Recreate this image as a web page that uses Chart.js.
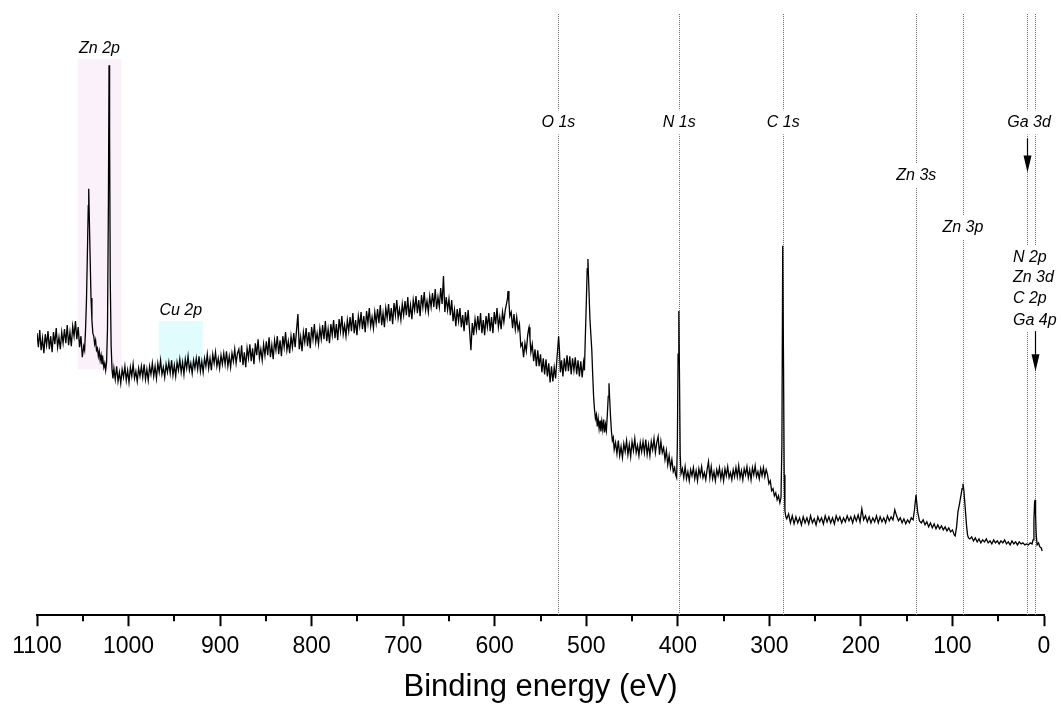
<!DOCTYPE html>
<html>
<head>
<meta charset="utf-8">
<script src="https://cdn.jsdelivr.net/npm/chart.js@4.4.0/dist/chart.umd.min.js"></script>
<style>
  html, body { margin: 0; padding: 0; background: #fff; }
</style>
</head>
<body>
<canvas id="xps" width="1061" height="706"></canvas>
<script>
// survey spectrum, [binding energy (eV), intensity (a.u.)]
var highEnd = [
  [1100, 281], [1098.5, 267], [1097, 284], [1095.5, 264], [1094, 276], [1092.5, 261], [1091, 280],
  [1089.5, 269], [1088, 283], [1086.5, 265], [1085, 278], [1083.5, 262], [1082, 282], [1080.5, 270],
  [1079, 286], [1077.5, 267], [1076, 277], [1074.5, 265], [1073, 282], [1071.5, 271], [1070, 285],
  [1068.5, 271], [1067, 289], [1065.5, 269], [1064, 282], [1062.5, 268], [1061, 288], [1059.5, 278],
  [1058, 293], [1056.5, 275], [1055, 287], [1053.5, 267], [1052, 278], [1050.5, 257]
];
var zn2p = [
  [1049, 268], [1048, 264], [1047, 284], [1046, 312], [1045, 358], [1044, 408], [1043.5, 425],
  [1043, 402], [1042, 358], [1041, 316], [1040, 294], [1039, 281], [1038, 278], [1037, 270],
  [1036, 274], [1035, 264], [1034, 266], [1033, 258], [1032, 263], [1031, 254], [1030, 259],
  [1029, 250], [1028, 255], [1027, 247], [1026, 251], [1025, 244], [1024, 252], [1023, 285],
  [1022, 410], [1021.3, 548], [1020.7, 480], [1020, 335], [1019, 268], [1018, 244], [1017, 236]
];
var cu2pRange = [
  [1016, 246], [1014.5, 235], [1013, 248], [1011.5, 233], [1010, 242], [1008.5, 231], [1007, 245],
  [1005.5, 237], [1004, 248], [1002.5, 234], [1001, 244], [999.5, 232], [998, 247], [996.5, 238],
  [995, 250], [993.5, 236], [992, 243], [990.5, 233], [989, 246], [987.5, 238], [986, 248],
  [984.5, 237], [983, 250], [981.5, 235], [980, 245], [978.5, 234], [977, 248], [975.5, 240],
  [974, 251], [972.5, 238], [971, 248], [969.5, 236], [968, 251], [966.5, 242], [965, 254],
  [963.5, 240], [962, 247], [960.5, 237], [959, 250], [957.5, 242], [956, 252], [954.5, 241],
  [953, 254], [951.5, 239], [950, 249], [948.5, 238], [947, 252], [945.5, 244], [944, 255],
  [942.5, 242], [941, 252], [939.5, 240], [938, 255], [936.5, 246], [935, 258], [933.5, 244],
  [932, 251], [930.5, 241], [929, 254], [927.5, 246], [926, 256], [924.5, 245], [923, 258],
  [921.5, 243], [920, 253], [918.5, 242], [917, 256], [915.5, 248], [914, 260], [912.5, 246],
  [911, 256], [909.5, 244], [908, 260], [906.5, 251], [905, 262], [903.5, 248], [902, 256],
  [900.5, 246], [899, 259], [897.5, 250], [896, 261], [894.5, 250], [893, 263], [891.5, 248],
  [890, 258], [888.5, 247], [887, 261], [885.5, 253], [884, 265], [882.5, 251], [881, 261]
];
var backgroundHump = [
  [879.5, 265], [878, 252], [876.5, 269], [875, 249], [873.5, 262], [872, 247], [870.5, 266],
  [869, 256], [867.5, 270], [866, 253], [864.5, 266], [863, 250], [861.5, 271], [860, 259],
  [858.5, 275], [857, 256], [855.5, 265], [854, 254], [852.5, 270], [851, 259], [849.5, 273],
  [848, 259], [846.5, 277], [845, 257], [843.5, 269], [842, 255], [840.5, 274], [839, 264],
  [837.5, 278], [836, 260], [834.5, 274], [833, 258], [831.5, 278], [830, 267], [828.5, 282],
  [827, 264], [825.5, 273], [824, 261], [822.5, 278], [821, 267], [819.5, 281], [818, 267],
  [816.5, 284], [815, 300], [813.5, 265], [812, 277], [810.5, 263], [809, 282], [807.5, 272],
  [806, 286], [804.5, 268], [803, 282], [801.5, 266], [800, 287], [798.5, 275], [797, 290],
  [795.5, 272], [794, 281], [792.5, 270], [791, 286], [789.5, 275], [788, 289], [786.5, 275],
  [785, 293], [783.5, 273], [782, 285], [780.5, 271], [779, 290], [777.5, 279], [776, 294],
  [774.5, 276], [773, 290], [771.5, 274], [770, 295], [768.5, 283], [767, 298], [765.5, 280],
  [764, 289], [762.5, 278], [761, 294], [759.5, 283], [758, 297], [756.5, 283], [755, 301],
  [753.5, 281], [752, 294], [750.5, 279], [749, 298], [747.5, 288], [746, 302], [744.5, 285],
  [743, 298], [741.5, 282], [740, 303], [738.5, 291], [737, 306], [735.5, 288], [734, 297],
  [732.5, 286], [731, 302], [729.5, 291], [728, 305], [726.5, 291], [725, 309], [723.5, 289],
  [722, 301], [720.5, 287], [719, 306], [717.5, 296], [716, 310], [714.5, 293], [713, 306],
  [711.5, 290], [710, 311], [708.5, 299], [707, 314], [705.5, 296], [704, 305], [702.5, 294],
  [701, 310], [699.5, 299], [698, 313], [696.5, 299], [695, 317], [693.5, 297], [692, 309],
  [690.5, 295], [689, 314], [687.5, 304], [686, 318], [684.5, 301], [683, 314], [681.5, 298],
  [680, 319], [678.5, 307], [677, 322], [675.5, 304], [674, 313], [672.5, 302], [671, 318],
  [669.5, 307], [668, 321], [666.5, 307], [665, 325], [663.5, 305], [662, 317]
];
var augerRange = [
  [660.5, 307], [659, 326], [657.5, 310], [656, 338], [654.5, 302], [653, 317], [651.5, 304],
  [650, 315], [648.5, 299], [647, 314], [645.5, 293], [644, 304], [642.5, 288], [641, 305],
  [639.5, 293], [638, 306], [636.5, 287], [635, 299], [633.5, 283], [632, 302], [630.5, 289],
  [629, 304], [627.5, 284], [626, 264], [624.5, 291], [623, 279], [621.5, 295], [620, 284],
  [618.5, 298], [617, 284], [615.5, 301], [614, 281], [612.5, 294], [611, 279], [609.5, 298],
  [608, 287], [606.5, 301], [605, 283], [603.5, 297], [602, 281], [600.5, 302], [599, 290],
  [597.5, 306], [596, 287], [594.5, 297], [593, 285], [591.5, 302], [590, 292], [588.5, 304],
  [587, 311], [586, 316], [585.5, 323], [584.5, 312], [583.5, 298], [582, 302], [580.5, 286],
  [579, 300], [577.5, 285], [576, 297], [574.5, 284], [573, 290], [571.5, 268], [570, 271],
  [568.5, 257], [567, 271], [565.5, 263], [564, 279], [563, 285], [562.5, 287], [561.5, 276],
  [560.5, 262], [559, 270], [557.5, 253], [556, 265], [554.5, 248], [553, 264], [551.5, 248],
  [550, 260], [548.5, 242], [547, 256], [545.5, 240], [544, 255], [542.5, 238], [541, 251],
  [539.5, 232], [538, 248], [536.5, 233], [535, 247], [533.5, 236], [532, 256], [531, 268],
  [530.2, 278], [529.3, 264], [528.3, 242], [527, 254], [525.5, 238], [524, 256], [522.5, 243],
  [521, 259], [519.5, 243], [518, 258], [516.5, 240], [515, 256], [513.5, 244], [512, 257],
  [510.5, 240], [509, 254], [507.5, 238], [506, 253], [504.5, 237], [503, 252], [502, 244],
  [501.3, 268], [500, 310], [499, 345], [498.2, 355], [497.3, 330], [496, 295], [495, 280],
  [494, 265], [493, 240], [492, 218], [491, 205], [490, 196], [489, 200], [488, 188], [487, 196],
  [486, 186], [485, 194], [484, 183], [483, 193], [482, 185], [481, 195], [480, 182], [479, 190],
  [478, 184], [477, 200], [476, 218], [475.2, 231], [474.4, 215], [473.5, 198], [472.5, 183],
  [471.5, 174], [470.5, 177], [469.5, 165]
];
var n1sRange = [
  [468, 172], [466.5, 161], [465, 174], [463.5, 159], [462, 168], [460.5, 157], [459, 171],
  [457.5, 163], [456, 174], [454.5, 160], [453, 170], [451.5, 158], [450, 173], [448.5, 164],
  [447, 176], [445.5, 162], [444, 169], [442.5, 159], [441, 172], [439.5, 163], [438, 173],
  [436.5, 162], [435, 175], [433.5, 160], [432, 170], [430.5, 159], [429, 173], [427.5, 165],
  [426, 176], [424.5, 162], [423, 172], [421.5, 178], [420, 160], [418.5, 173], [417, 162],
  [415.5, 167], [414, 155], [412.5, 164], [411, 150], [409.5, 159], [408, 147], [406.5, 155],
  [405, 143], [403.5, 147], [402.5, 140], [401.3, 137], [400.5, 170], [399.7, 260], [398.9, 303],
  [398.2, 240], [397.4, 160], [396.5, 141], [395, 146], [393.5, 137], [392, 148], [390.5, 136],
  [389, 143], [387.5, 134], [386, 145], [384.5, 139], [383, 147], [381.5, 136], [380, 144],
  [378.5, 134], [377, 146], [375.5, 139], [374, 148], [372.5, 137], [371, 142], [369.5, 135],
  [368, 145], [366.5, 153], [365, 137], [363.5, 148], [362, 136], [360.5, 143], [359, 134],
  [357.5, 145], [356, 139], [354.5, 147], [353, 136], [351.5, 144], [350, 134], [348.5, 146],
  [347, 139], [345.5, 148], [344, 137], [342.5, 142], [341, 135], [339.5, 145], [338, 138],
  [336.5, 147], [335, 138], [333.5, 149], [332, 137], [330.5, 144], [329, 135], [327.5, 146],
  [326, 140], [324.5, 148], [323, 137], [321.5, 145], [320, 135], [318.5, 147], [317, 140],
  [315.5, 149], [314, 138], [312.5, 143], [311, 136], [309.5, 146], [308, 139], [306.5, 147],
  [305, 138], [303.5, 145], [302, 140], [300.5, 131], [299, 134], [297.5, 124], [296, 126],
  [294.5, 119], [293, 122], [291.5, 115], [290, 119], [288.5, 112], [287.3, 117], [286.3, 170],
  [285.4, 368], [284.6, 260], [283.8, 140], [283, 104], [282, 98]
];
var lowRange = [
  [281, 96], [279, 101], [277, 92], [275, 99], [273, 91], [271, 98], [269, 92], [267, 97],
  [265, 90], [263, 98], [261, 92], [259, 97], [257, 91], [255, 99], [253, 92], [251, 96],
  [249, 90], [247, 98], [245, 93], [243, 97], [241, 91], [239, 99], [237, 93], [235, 98],
  [233, 92], [231, 97], [229, 91], [227, 99], [225, 94], [223, 98], [221, 92], [219, 97],
  [217, 93], [215, 99], [213, 94], [211, 98], [209, 92], [207, 99], [205, 94], [203, 100],
  [201, 93], [199, 106], [197, 95], [195, 99], [193, 93], [191, 98], [189, 92], [187, 97],
  [185, 93], [183, 99], [181, 92], [179, 98], [177, 93], [175, 97], [173, 92], [171, 99],
  [169, 94], [167, 98], [165, 95], [163, 105], [161, 99], [159, 94], [157, 97], [155, 92],
  [153, 96], [151, 91], [149, 95], [147, 92], [145, 97], [143, 95], [141.5, 105], [139.8, 120],
  [138, 103], [136, 94], [134, 92], [132, 95], [130, 90], [128, 93], [126, 88], [124, 92],
  [122, 87], [120, 91], [118, 86], [116, 90], [114, 86], [112, 89], [110, 85], [108, 88],
  [106, 84], [104, 87], [102, 83], [100, 85], [98, 80], [97, 79], [95.5, 88], [94, 103],
  [92.5, 110], [91, 118], [89.5, 126], [88.5, 131], [87.5, 124], [86.5, 112], [85.5, 100],
  [84.5, 88], [83.5, 80], [82.5, 77], [81, 76], [79, 78], [77, 74], [75, 77], [73, 73], [71, 76],
  [69, 72], [67, 75], [65, 73], [63, 76], [61, 72], [59, 74], [57, 71], [55, 75], [53, 72],
  [51, 74], [49, 71], [47, 74], [45, 72], [43, 75], [41, 71], [39, 73], [37, 70], [35, 74],
  [33, 71], [31, 73], [29, 70], [27, 73], [25, 71], [23, 72], [21, 70], [19, 71], [17, 70],
  [15, 72], [13, 71], [12, 75], [11, 95], [10.3, 112], [9.8, 115], [9.2, 100], [8.5, 80],
  [7.5, 70], [6, 72], [4.5, 68], [3, 67], [2, 64]
];

var xTicks = [1100, 1000, 900, 800, 700, 600, 500, 400, 300, 200, 100, 0];
var minorTicks = [1050, 950, 850, 750, 650, 550, 450, 350, 250, 150, 50];

// dotted reference lines and their labels
var lineEnergy = [530.4, 398.4, 284.8, 139.5, 88.6, 18.6, 9.8];
var peakLabels = ["O 1s", "N 1s", "C 1s", "Zn 3s", "Zn 3p", "Ga 3d"];
var labelEnergy = [530.4, 398.4, 284.8, 139.5, 88.6, 16.4];
var labelLevel = [491, 491, 491, 438, 386, 491];

// stacked label for the valence region
var valenceLabels = ["N 2p", "Zn 3d", "C 2p", "Ga 4p"];
var valenceLevel = [356, 336, 315, 294];
var valenceLeft = 33.9;

// shaded regions: [high eV, low eV, bottom, top]
var regionNames = ["Zn 2p", "Cu 2p"];
var regionSpans = [[1055.7, 1007.7, 245, 554], [967, 919, 245, 293]];
var regionColors = ["#fbf1fb", "#e0fcfc"];

// arrows: [eV, from, to]
var arrows = [[18.6, 475, 441], [9.8, 283, 243]];

var FONT = "'Liberation Sans', Arial, sans-serif";

var spectrum = [].concat(highEnd, zn2p, cu2pRange, backgroundHump, augerRange, n1sRange, lowRange);

var marks = {
  id: "marks",
  beforeDatasetsDraw: function (chart) {
    var ctx = chart.ctx, xs = chart.scales.x, ys = chart.scales.y, area = chart.chartArea;
    ctx.save();
    regionSpans.forEach(function (r, i) {
      var x1 = xs.getPixelForValue(r[0]), x2 = xs.getPixelForValue(r[1]);
      var y1 = ys.getPixelForValue(r[3]), y2 = ys.getPixelForValue(r[2]);
      ctx.fillStyle = regionColors[i];
      ctx.fillRect(x1, y1, x2 - x1, y2 - y1);
    });
    ctx.strokeStyle = "#6e6e6e";
    ctx.lineWidth = 1;
    ctx.setLineDash([1, 1]);
    lineEnergy.forEach(function (e) {
      var x = Math.round(xs.getPixelForValue(e)) + 0.5;
      ctx.beginPath();
      ctx.moveTo(x, area.top + 1);
      ctx.lineTo(x, area.bottom);
      ctx.stroke();
    });
    ctx.restore();
  },
  afterDatasetsDraw: function (chart) {
    var ctx = chart.ctx, xs = chart.scales.x, ys = chart.scales.y, area = chart.chartArea;
    ctx.save();
    ctx.font = "italic 16px " + FONT;
    ctx.textBaseline = "middle";
    ctx.textAlign = "center";

    regionSpans.forEach(function (r, i) {
      var cx = (xs.getPixelForValue(r[0]) + xs.getPixelForValue(r[1])) / 2;
      ctx.fillStyle = "#000";
      ctx.fillText(regionNames[i], cx, ys.getPixelForValue(r[3]) - 11);
    });

    // peak labels sit in a gap of their dotted line
    peakLabels.forEach(function (t, i) {
      var x = xs.getPixelForValue(labelEnergy[i]), y = ys.getPixelForValue(labelLevel[i]);
      var w = ctx.measureText(t).width;
      ctx.fillStyle = "#fff";
      ctx.fillRect(x - w / 2 - 2, y - 12, w + 4, 24);
      ctx.fillStyle = "#000";
      ctx.fillText(t, x, y);
    });

    ctx.textAlign = "left";
    var lx = xs.getPixelForValue(valenceLeft);
    var top = ys.getPixelForValue(valenceLevel[0]) - 12;
    var bot = ys.getPixelForValue(valenceLevel[valenceLevel.length - 1]) + 11;
    ctx.fillStyle = "#fff";
    ctx.fillRect(lx - 2, top, area.right + 17 - lx, bot - top);
    valenceLabels.forEach(function (t, i) {
      ctx.fillStyle = "#000";
      ctx.fillText(t, lx, ys.getPixelForValue(valenceLevel[i]));
    });

    ctx.strokeStyle = "#000";
    ctx.fillStyle = "#000";
    ctx.lineWidth = 1.2;
    arrows.forEach(function (a) {
      var x = Math.round(xs.getPixelForValue(a[0])) + 0.5;
      var y1 = ys.getPixelForValue(a[1]), y2 = ys.getPixelForValue(a[2]);
      ctx.beginPath();
      ctx.moveTo(x, y1);
      ctx.lineTo(x, y2 - 12);
      ctx.stroke();
      ctx.beginPath();
      ctx.moveTo(x - 4, y2 - 17);
      ctx.lineTo(x + 4, y2 - 17);
      ctx.lineTo(x, y2);
      ctx.closePath();
      ctx.fill();
    });

    // minor ticks
    ctx.lineWidth = 2;
    minorTicks.forEach(function (v) {
      var x = Math.round(xs.getPixelForValue(v));
      ctx.beginPath();
      ctx.moveTo(x, area.bottom);
      ctx.lineTo(x, area.bottom + 6);
      ctx.stroke();
    });
    ctx.restore();
  }
};

var chart = new Chart(document.getElementById("xps"), {
  type: "line",
  data: {
    datasets: [
      {
        data: spectrum.map(function (p) { return { x: p[0], y: p[1] }; }),
        borderColor: "#000",
        borderWidth: 1.3,
        pointRadius: 0,
        tension: 0,
        fill: false
      }
    ]
  },
  options: {
    responsive: false,
    animation: false,
    layout: { padding: { left: 37, right: 17, top: 13, bottom: 0 } },
    plugins: { legend: { display: false }, tooltip: { enabled: false } },
    scales: {
      x: {
        type: "linear",
        reverse: true,
        min: 0,
        max: 1100,
        afterBuildTicks: function (axis) {
          axis.ticks = xTicks.map(function (v) { return { value: v }; });
        },
        border: { display: true, color: "#000", width: 2 },
        grid: { drawOnChartArea: false, drawTicks: true, tickLength: 11, tickWidth: 2, tickColor: "#000" },
        ticks: {
          color: "#000",
          font: { family: FONT, size: 23 },
          padding: 7,
          maxRotation: 0,
          autoSkip: false,
          callback: function (v) { return String(v); }
        },
        title: {
          display: true,
          text: "Binding energy (eV)",
          color: "#000",
          font: { family: FONT, size: 31 },
          padding: { top: 1, bottom: 0 }
        }
      },
      y: { display: false, min: 0, max: 600 }
    }
  },
  plugins: [marks]
});
</script>
</body>
</html>
